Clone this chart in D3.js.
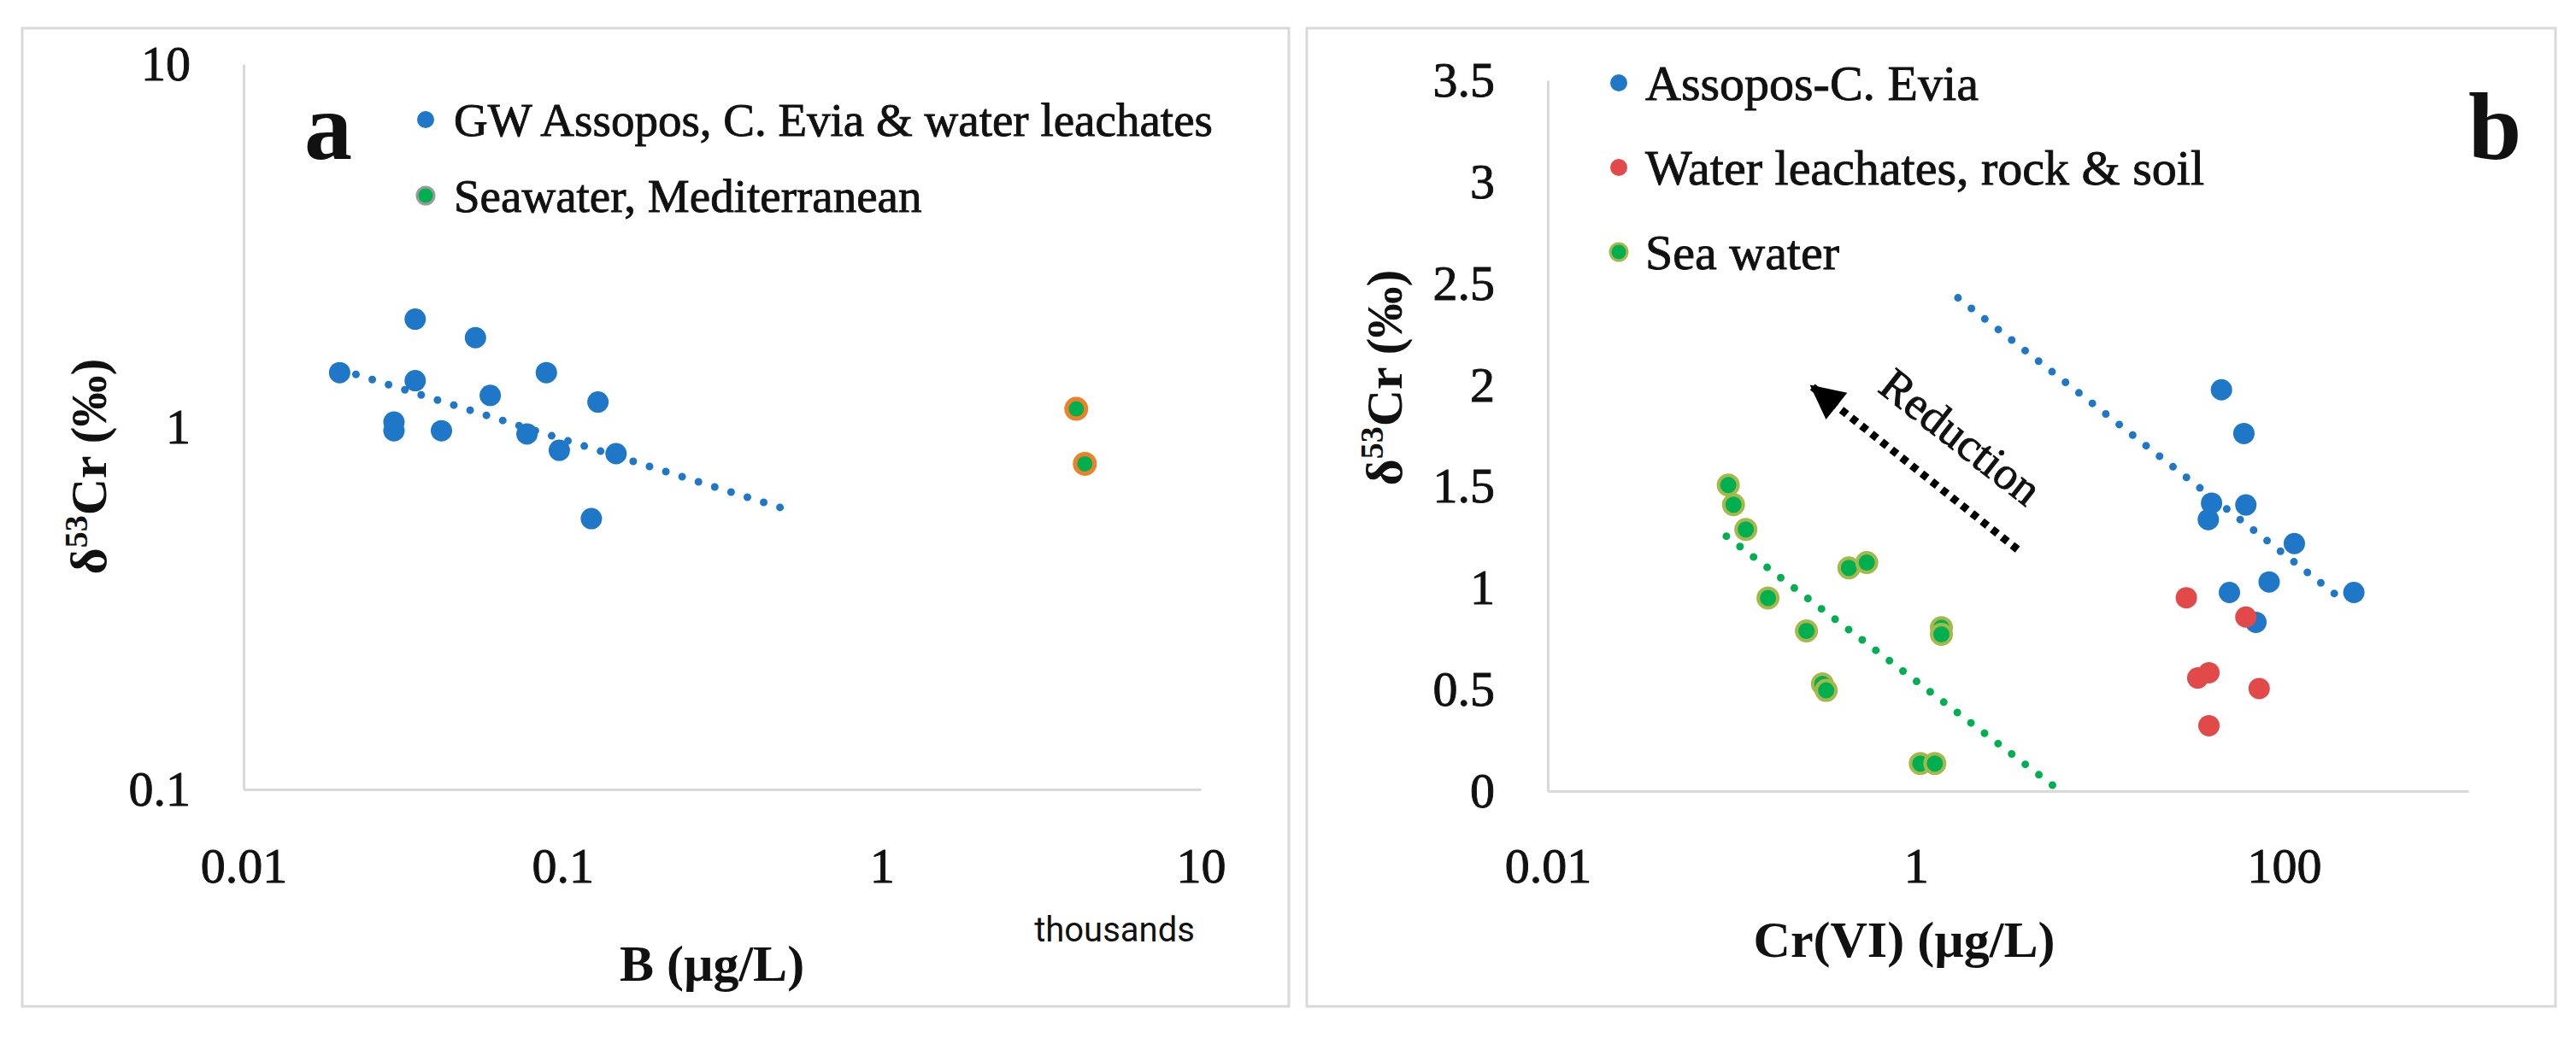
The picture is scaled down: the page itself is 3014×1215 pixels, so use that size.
<!DOCTYPE html>
<html>
<head>
<meta charset="utf-8">
<script src="https://cdn.jsdelivr.net/npm/d3@7"></script>
<style>
  body { margin: 0; background: #fff; }
  svg, text { font-family: "Liberation Serif", "Times New Roman", "DejaVu Serif", serif; fill: #111; }
</style>
</head>
<body>
<div id="chart"></div>
<script>
// delta53Cr vs B (panel a) and vs Cr(VI) (panel b)

// panel a: GW Assopos, C. Evia & water leachates
const gwB = [0.020, 0.0345, 0.0345, 0.0296, 0.0296, 0.0417, 0.0533, 0.0593, 0.0773, 0.0889, 0.0976, 0.129, 0.147, 0.123];
const gwDelta = [1.41, 1.98, 1.34, 1.03, 0.975, 0.975, 1.76, 1.22, 0.955, 1.41, 0.861, 1.17, 0.843, 0.558];
// panel a: Seawater, Mediterranean
const seaB = [4.07, 4.33];
const seaDeltaA = [1.12, 0.79];
// panel a: trend (end points)
const trendAx = [0.020, 0.52];
const trendAy = [1.44, 0.586];

// panel b: Assopos-C. Evia
const assoposCr = [45.6, 60.4, 40.3, 61.9, 38.7, 113.5, 82.8, 50.4, 239, 70.2];
const assoposDelta = [1.976, 1.761, 1.418, 1.409, 1.337, 1.219, 1.030, 0.978, 0.978, 0.831];
// panel b: Water leachates, rock & soil
const leachCr = [29.4, 61.9, 33.9, 39.0, 73.1, 39.0];
const leachDelta = [0.952, 0.857, 0.557, 0.583, 0.505, 0.322];
// panel b: Sea water
const seaCr = [0.0955, 0.102, 0.119, 0.157, 0.254, 0.310, 0.325, 0.432, 0.540, 1.055, 1.265, 1.374, 1.374];
const seaDeltaB = [1.507, 1.41, 1.288, 0.951, 0.789, 0.528, 0.496, 1.099, 1.125, 0.136, 0.136, 0.805, 0.772];
// panel b: trends
const trendBlueX = [1.69, 215];
const trendBlueY = [2.429, 0.930];
const trendGreenX = [0.0933, 6.08];
const trendGreenY = [1.255, 0];
// panel b: reduction arrow (data units)
const arrowX = [3.56, 0.274];
const arrowY = [1.19, 1.99];

// tick labels
const ticksAx = [0.01, 0.1, 1, 10];
const ticksAy = [0.1, 1, 10];
const ticksBx = [0.01, 1, 100];
const ticksBy = [0, 0.5, 1, 1.5, 2, 2.5, 3, 3.5];

const width = 3014, height = 1215;
const blue = "#1f77c8", red = "#e24a4a", green = "#00b050", frameGray = "#d9d9d9";
const serif = "'Liberation Serif', 'Times New Roman', serif";

let svg = d3.select("#chart")
    .append("svg")
    .attr("width", width)
    .attr("height", height)
    .attr("font-family", serif);

svg.append("rect").attr("width", width).attr("height", height).attr("fill", "#fff");

// panel frames
svg.append("rect").attr("x", 26).attr("y", 33).attr("width", 1482).attr("height", 1145)
    .attr("fill", "none").attr("stroke", frameGray).attr("stroke-width", 3);
svg.append("rect").attr("x", 1529).attr("y", 33).attr("width", 1461).attr("height", 1145)
    .attr("fill", "none").attr("stroke", frameGray).attr("stroke-width", 3);

const zip = (xs, ys) => xs.map((x, i) => ({x: x, y: ys[i]}));

// heavier regular text, closer to the Palatino look of the original
function heavy(sel) {
    sel.attr("stroke", "#111").attr("stroke-width", 0.9);
}

// style an axis: grey line, no ticks, serif labels
function styleAxis(g) {
    g.attr("font-family", serif);
    g.select(".domain").attr("stroke", frameGray).attr("stroke-width", 3);
    g.selectAll(".tick line").remove();
    g.selectAll(".tick text")
        .attr("fill", "#111")
        .style("font-family", serif)
        .style("font-size", "58px")
        .call(heavy);
}

function dots(g, data, x, y, fill, stroke, sw) {
    g.selectAll(null)
        .data(data)
        .join("circle")
        .attr("cx", d => x(d.x))
        .attr("cy", d => y(d.y))
        .attr("r", stroke ? 11.5 : 12.5)
        .attr("fill", fill)
        .attr("stroke", stroke || "none")
        .attr("stroke-width", sw || 0);
}

function trend(g, data, x, y, color) {
    g.append("path")
        .datum(data)
        .attr("d", d3.line().x(d => x(d.x)).y(d => y(d.y)))
        .attr("fill", "none")
        .attr("stroke", color)
        .attr("stroke-width", 9)
        .attr("stroke-linecap", "round")
        .attr("stroke-dasharray", "0 20");
}

function deltaTitle(g, tx, ty) {
    let t = g.append("text")
        .attr("transform", `translate(${tx},${ty}) rotate(-90)`)
        .attr("text-anchor", "middle")
        .style("font-weight", "bold").style("font-size", "60px");
    t.append("tspan").text("δ");
    t.append("tspan").text("53").attr("dy", -22).style("font-size", "38px");
    t.append("tspan").text("Cr (‰)").attr("dy", 22);
}

// ---------- panel a ----------
let xa = d3.scaleLog().domain([0.01, 10]).range([285, 1405]);
let ya = d3.scaleLog().domain([0.1, 10]).range([924, 75]);

let ga = svg.append("g");

ga.append("g")
    .attr("transform", "translate(0,924)")
    .call(d3.axisBottom(xa).tickValues(ticksAx).tickFormat(d => d).tickSize(0).tickPadding(68))
    .call(styleAxis);
ga.append("g")
    .attr("transform", "translate(285,0)")
    .call(d3.axisLeft(ya).tickValues(ticksAy).tickFormat(d => d).tickSize(0).tickPadding(62))
    .call(styleAxis);

ga.append("text").text("thousands")
    .attr("x", 1304).attr("y", 1102)
    .attr("text-anchor", "middle")
    .style("font-family", "'Liberation Sans Narrow', 'Roboto', sans-serif")
    .style("font-size", "40px");

ga.append("text").text("B (µg/L)")
    .attr("x", 833).attr("y", 1148)
    .attr("text-anchor", "middle")
    .style("font-weight", "bold").style("font-size", "60px");

deltaTitle(ga, 124, 546);

trend(ga, zip(trendAx, trendAy), xa, ya, blue);
dots(ga, zip(gwB, gwDelta), xa, ya, blue);
dots(ga, zip(seaB, seaDeltaA), xa, ya, green, "#f07f2a", 5);

ga.append("text").text("a")
    .attr("x", 356).attr("y", 186)
    .style("font-weight", "bold").style("font-size", "112px");

// legend a
let legA = ga.selectAll(".legA")
    .data([
        {label: "GW Assopos, C. Evia & water leachates", fill: blue, stroke: null},
        {label: "Seawater, Mediterranean", fill: green, stroke: "#9a9a9a"}
    ])
    .join("g")
    .attr("transform", (d, i) => `translate(498,${140 + i * 89})`);
legA.append("circle").attr("r", 10)
    .attr("fill", d => d.fill)
    .attr("stroke", d => d.stroke || "none").attr("stroke-width", 3);
legA.append("text").text(d => d.label)
    .attr("x", 33).attr("dy", "0.35em")
    .style("font-size", "55px")
    .call(heavy);

// ---------- panel b ----------
let xb = d3.scaleLog().domain([0.01, 1000]).range([1811, 2888]);
let yb = d3.scaleLinear().domain([0, 3.5]).range([926, 94]);

let gb = svg.append("g");

gb.append("g")
    .attr("transform", "translate(0,926)")
    .call(d3.axisBottom(xb).tickValues(ticksBx).tickFormat(d => d).tickSize(0).tickPadding(66))
    .call(styleAxis);
gb.append("g")
    .attr("transform", "translate(1811,0)")
    .call(d3.axisLeft(yb).tickValues(ticksBy).tickFormat(d => d).tickSize(0).tickPadding(62))
    .call(styleAxis);

gb.append("text").text("Cr(VI) (µg/L)")
    .attr("x", 2228).attr("y", 1120)
    .attr("text-anchor", "middle")
    .style("font-weight", "bold").style("font-size", "60px");

deltaTitle(gb, 1640, 442);

trend(gb, zip(trendBlueX, trendBlueY), xb, yb, blue);
trend(gb, zip(trendGreenX, trendGreenY), xb, yb, green);
dots(gb, zip(assoposCr, assoposDelta), xb, yb, blue);
dots(gb, zip(leachCr, leachDelta), xb, yb, red);
dots(gb, zip(seaCr, seaDeltaB), xb, yb, green, "#a6b84a", 4);

// reduction arrow
svg.append("defs").append("marker")
    .attr("id", "head")
    .attr("viewBox", "0 0 10 10")
    .attr("refX", 9).attr("refY", 5)
    .attr("markerUnits", "userSpaceOnUse")
    .attr("markerWidth", 44).attr("markerHeight", 40)
    .attr("orient", "auto")
    .append("path").attr("d", "M0,0 L10,5 L0,10 Z").attr("fill", "#000");

gb.append("path")
    .datum(zip(arrowX, arrowY))
    .attr("d", d3.line().x(d => xb(d.x)).y(d => yb(d.y)))
    .attr("fill", "none")
    .attr("stroke", "#000")
    .attr("stroke-width", 9)
    .attr("stroke-dasharray", "8 7")
    .attr("marker-end", "url(#head)");

gb.append("text").text("Reduction")
    .attr("transform", `translate(${xb(1.76)},${yb(1.747)}) rotate(38)`)
    .attr("text-anchor", "middle").attr("dy", "0.35em")
    .style("font-size", "54px")
    .call(heavy);

gb.append("text").text("b")
    .attr("x", 2888).attr("y", 186)
    .style("font-weight", "bold").style("font-size", "112px");

// legend b
let legB = gb.selectAll(".legB")
    .data([
        {label: "Assopos-C. Evia", fill: blue, stroke: null},
        {label: "Water leachates, rock & soil", fill: red, stroke: null},
        {label: "Sea water", fill: green, stroke: "#a6b84a"}
    ])
    .join("g")
    .attr("transform", (d, i) => `translate(1894,${97 + i * 99})`);
legB.append("circle").attr("r", 10)
    .attr("fill", d => d.fill)
    .attr("stroke", d => d.stroke || "none").attr("stroke-width", 3);
legB.append("text").text(d => d.label)
    .attr("x", 31).attr("dy", "0.35em")
    .style("font-size", "58px")
    .call(heavy);
</script>
</body>
</html>
